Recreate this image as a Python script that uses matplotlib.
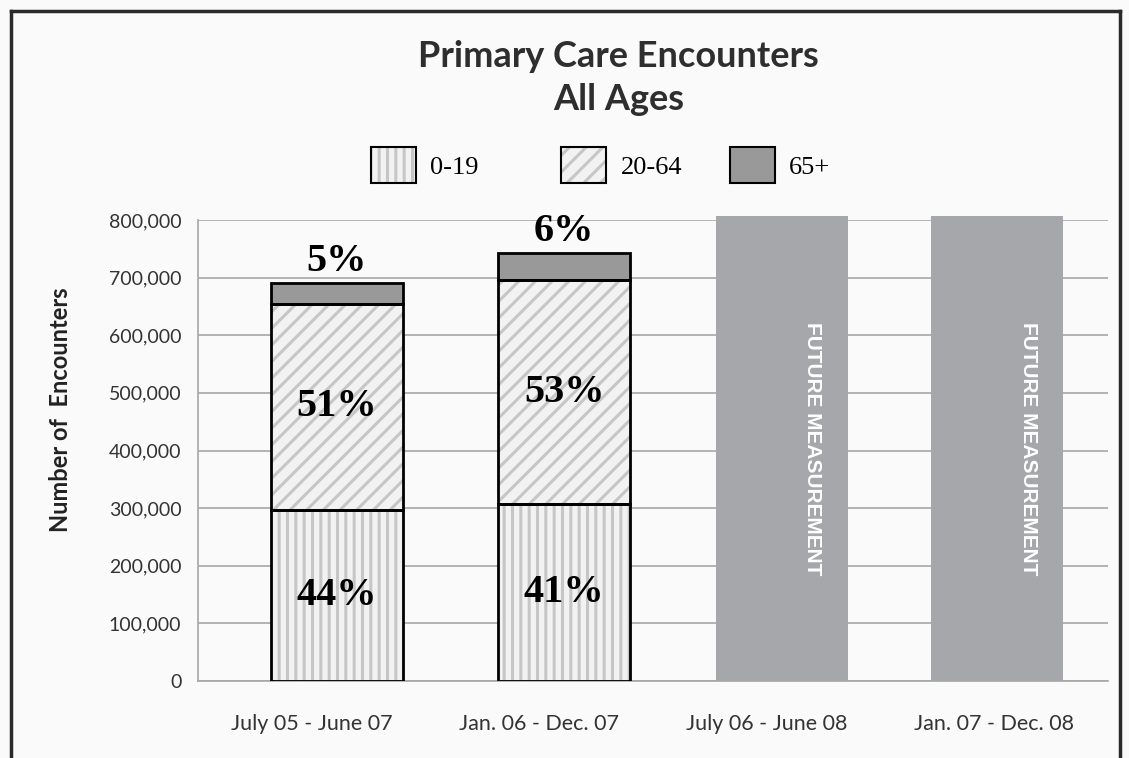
import numpy as np
import matplotlib.pyplot as plt
from matplotlib.patches import Patch
from matplotlib.lines import Line2D

plt.rcParams['font.family'] = ['Lato', 'DejaVu Sans']
plt.rcParams['hatch.linewidth'] = 2.2

# data
periods = ['July 05 - June 07', 'Jan. 06 - Dec. 07', 'July 06 - June 08', 'Jan. 07 - Dec. 08']
age_groups = ['0-19', '20-64', '65+']
enc_0_19 = [297000, 307000]
enc_20_64 = [357000, 389000]
enc_65 = [37000, 47000]
pct_labels = [['44%', '51%', '5%'], ['41%', '53%', '6%']]
future_height = [807000, 807000]
future_text = 'FUTURE MEASUREMENT'

bg = '#fafafa'
fig = plt.figure(figsize=(11.29, 7.58), dpi=100, facecolor=bg)
ax = fig.add_axes([198/1129, 1-681/758, 910/1129, 461/758])
ax.set_facecolor(bg)

x = np.arange(len(periods))
xd = x[:2] + 0.11
xf = x[2:] + np.array([0.065, 0.014])
w = 0.58

seg_styles = [
    dict(facecolor='#f2f2f2', hatch='||', edgecolor='#c6c6c6'),
    dict(facecolor='#f2f2f2', hatch='//', edgecolor='#c6c6c6'),
    dict(facecolor='#999999', hatch=None, edgecolor='#999999'),
]
segs = [enc_0_19, enc_20_64, enc_65]
bottom = np.zeros(2)
handles = []
for vals, st in zip(segs, seg_styles):
    vals = np.array(vals)
    ax.bar(xd, vals, w, bottom=bottom, linewidth=0, zorder=2, **st)
    ax.bar(xd, vals, w, bottom=bottom, fill=False, edgecolor='black',
           linewidth=2, zorder=3)
    handles.append((Patch(linewidth=0, **st),
                    Patch(fill=False, edgecolor='black', linewidth=1.5)))
    bottom = bottom + vals

# percentage labels
for i in range(2):
    b = 0
    for j, vals in enumerate(segs):
        v = vals[i]
        if j < 2:
            ax.text(xd[i], b + v/2, pct_labels[i][j], ha='center', va='center',
                    fontsize=29, fontweight='bold', family='Liberation Serif', zorder=4)
        else:
            ax.annotate(pct_labels[i][j], (xd[i], b + v), xytext=(0, 2),
                        textcoords='offset points', ha='center', va='bottom',
                        fontsize=29, fontweight='bold', family='Liberation Serif')
        b += v

# future bars
ax.bar(xf, future_height, w, color='#a6a7aa', linewidth=0, zorder=2, clip_on=False)
for xi in xf:
    ax.text(xi + 0.135, 404000, future_text, rotation=-90, ha='center', va='center',
            color='white', fontsize=15, fontweight='bold',
            family='Liberation Sans', zorder=4)

ax.set_xlim(-0.5, 3.5)
ax.set_ylim(0, 800000)
ax.set_yticks(np.arange(0, 800001, 100000))
ax.yaxis.set_major_formatter(plt.FuncFormatter(lambda v, p: f'{int(v):,}'))
ax.set_xticks(x)
ax.set_xticklabels(periods)
ax.tick_params(axis='both', length=0, labelsize=14, colors='#333333')
ax.tick_params(axis='x', pad=24, labelsize=15.5)
ax.tick_params(axis='y', pad=12)
ax.grid(axis='y', color='#a6a6a6', linewidth=1.2, zorder=0)
ax.set_axisbelow(True)
for s in ['top', 'right']:
    ax.spines[s].set_visible(False)
for s in ['left', 'bottom']:
    ax.spines[s].set_color('#a6a6a6')
    ax.spines[s].set_linewidth(1.2)
ax.set_ylabel('Number of  Encounters', fontsize=17, fontweight='bold', color='#222222')
ax.yaxis.set_label_coords(-0.138, 0.588)

fig.text(0.548, 0.897, 'Primary Care Encounters\nAll Ages', ha='center', va='center',
         fontsize=26, fontweight='bold', color='#2e2e2e', linespacing=1.4)

# legend entries sit at uneven spacing in the original, so place each one
leg_x = [371/1129, 561/1129, 730/1129]
for h, lab, lx in zip(handles, age_groups, leg_x):
    leg = fig.legend([h], [lab], loc='center left', bbox_to_anchor=(lx, 0.782),
                     frameon=False, prop={'family': 'Liberation Serif', 'size': 19},
                     handlelength=1.7, handleheight=1.7, handletextpad=0.55,
                     borderpad=0, borderaxespad=0)

# frame around the picture
fig.add_artist(Line2D([11/1129, 11/1129], [0, 1-11/758], color='#2a2a2a', lw=2.5,
                      transform=fig.transFigure))
fig.add_artist(Line2D([11/1129, 1120/1129], [1-11/758, 1-11/758], color='#2a2a2a', lw=2.5,
                      transform=fig.transFigure))
fig.add_artist(Line2D([1120/1129, 1120/1129], [0, 1-11/758], color='#2a2a2a', lw=2.5,
                      transform=fig.transFigure))

fig.savefig('out.png', dpi=100, facecolor=bg)
